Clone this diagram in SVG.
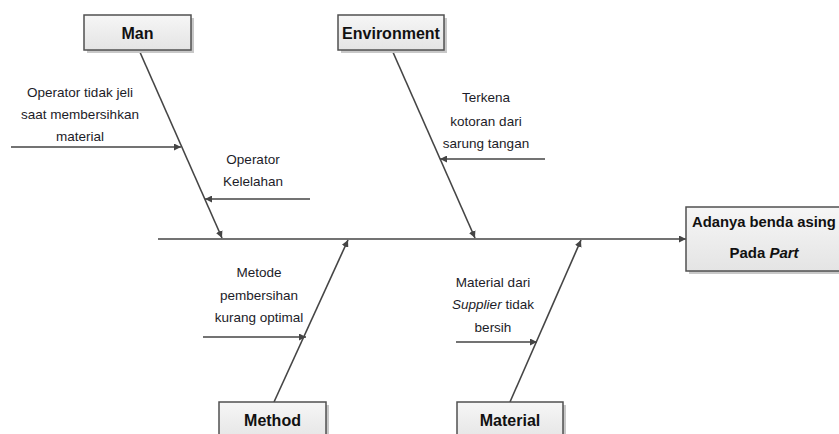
<svg xmlns="http://www.w3.org/2000/svg" width="839" height="434" viewBox="0 0 839 434">
<style>
.box{fill:url(#g);stroke:#505050;stroke-width:1.5}
.sh{fill:#c8c8c8}
.ln{stroke:#454545;stroke-width:1.6;fill:none;marker-end:url(#ah)}
.t{font-family:"Liberation Sans",Arial,sans-serif;font-size:13.5px;fill:#1c1c28;text-anchor:middle}
.b{font-family:"Liberation Sans",Arial,sans-serif;font-size:16px;font-weight:bold;fill:#111;text-anchor:middle}
</style>
<defs>
<linearGradient id="g" x1="0" y1="0" x2="0" y2="1"><stop offset="0" stop-color="#f6f6f6"/><stop offset="1" stop-color="#e4e4e4"/></linearGradient>
<marker id="ah" viewBox="0 0 10 10" refX="10" refY="5" markerWidth="7" markerHeight="7" markerUnits="userSpaceOnUse" orient="auto"><path d="M0,0 L10,5 L0,10 z" fill="#454545"/></marker>
</defs>
<g id="connectors">
<line class="ln" x1="158" y1="239" x2="686" y2="239"/>
<line class="ln" x1="139" y1="50" x2="222" y2="238"/>
<line class="ln" x1="392" y1="50" x2="475" y2="238"/>
<line class="ln" x1="274" y1="402" x2="348" y2="240"/>
<line class="ln" x1="510" y1="402" x2="581" y2="240"/>
<line class="ln" x1="11" y1="147" x2="181" y2="147"/>
<line class="ln" x1="310" y1="199" x2="205" y2="199"/>
<line class="ln" x1="545" y1="159" x2="440" y2="159"/>
<line class="ln" x1="203" y1="337" x2="306" y2="337"/>
<line class="ln" x1="456" y1="342" x2="537" y2="342"/>
</g>
<g id="man"><rect class="sh" x="87" y="18" width="107" height="35"/><rect class="box" x="84" y="15" width="107" height="35"/><text class="b" x="137.5" y="38.5">Man</text></g>
<g id="environment"><rect class="sh" x="341" y="18" width="106" height="35"/><rect class="box" x="338" y="15" width="106" height="35"/><text class="b" x="391" y="38.5">Environment</text></g>
<g id="method"><rect class="sh" x="222" y="405" width="107" height="40"/><rect class="box" x="219" y="402" width="107" height="40"/><text class="b" x="272.5" y="426">Method</text></g>
<g id="material"><rect class="sh" x="460" y="405" width="106" height="40"/><rect class="box" x="457" y="402" width="106" height="40"/><text class="b" x="510" y="426">Material</text></g>
<g id="effect"><rect class="sh" x="689" y="210" width="160" height="64"/><rect class="box" x="686" y="207" width="160" height="64"/><text class="b" x="692" y="227" style="text-anchor:start;font-size:14.8px">Adanya benda asing</text><text class="b" x="764" y="258" style="font-size:15px">Pada <tspan font-style="italic">Part</tspan></text></g>
<g id="c1"><text class="t" x="80" y="97">Operator tidak jeli</text><text class="t" x="80" y="119">saat membersihkan</text><text class="t" x="80" y="141">material</text></g>
<g id="c2"><text class="t" x="253" y="164">Operator</text><text class="t" x="253" y="186">Kelelahan</text></g>
<g id="c3"><text class="t" x="486" y="102">Terkena</text><text class="t" x="486" y="126">kotoran dari</text><text class="t" x="486" y="148">sarung tangan</text></g>
<g id="c4"><text class="t" x="259" y="277">Metode</text><text class="t" x="259" y="300">pembersihan</text><text class="t" x="259" y="322">kurang optimal</text></g>
<g id="c5"><text class="t" x="493" y="287">Material dari</text><text class="t" x="493" y="309"><tspan font-style="italic">Supplier</tspan> tidak</text><text class="t" x="493" y="332">bersih</text></g>
</svg>
